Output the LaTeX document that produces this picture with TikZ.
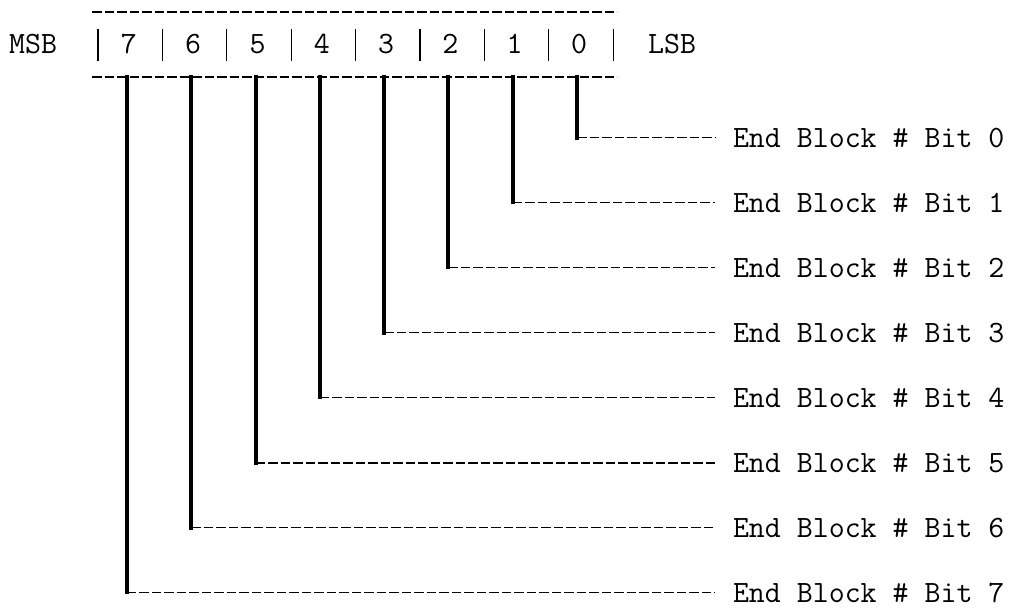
\documentclass[tikz,border=0pt]{standalone}
\usepackage{fontspec}
\begin{document}
\begin{tikzpicture}[x=1pt,y=-1pt,
  tt/.style={inner sep=0pt, font=\ttfamily\fontsize{31}{35}\selectfont},
  lab/.style={tt, outer xsep=18pt, anchor=base west},
  rule/.style={line width=1.8pt, dash pattern=on 9.5pt off 3pt},
  bar/.style={line width=4pt, line cap=rect},
  sep/.style={line width=1.3pt}]
\useasboundingbox (0,0) rectangle (1010,613);
% frame lines
\coordinate (tl) at (92,12);  \coordinate (tr) at (617,12);
\coordinate (bl) at (92,77);  \coordinate (br) at (617,77);
\draw[rule] (tl) -- (tr);
\draw[rule] (bl) -- (br);
\node[tt, anchor=base west] (msb) at (9,53) {MSB};
\node[tt, anchor=base west] (lsb) at (648,53) {LSB};
% separators
\foreach \k in {0,...,8} {
  \coordinate (s\k a) at ({98+64.4*\k},29);
  \coordinate (s\k b) at ({98+64.4*\k},61);
  \draw[sep] (s\k a) -- (s\k b);
}
% bits
\foreach \b in {0,...,7} {
  \pgfmathsetmacro{\xv}{577-64.3*\b}
  \pgfmathsetmacro{\yr}{147+65*\b}
  \node[tt, anchor=base] (d\b) at ({\xv+2},53) {\b};
  \coordinate (t\b) at (\xv,77);
  \node[lab] (l\b) at (715,\yr) {End Block \# Bit \b};
  \coordinate (c\b) at (t\b |- l\b.west);
  \draw[bar] (t\b) -- (c\b);
  \draw[rule] (c\b) -- (l\b.west);
}
\end{tikzpicture}
\end{document}
